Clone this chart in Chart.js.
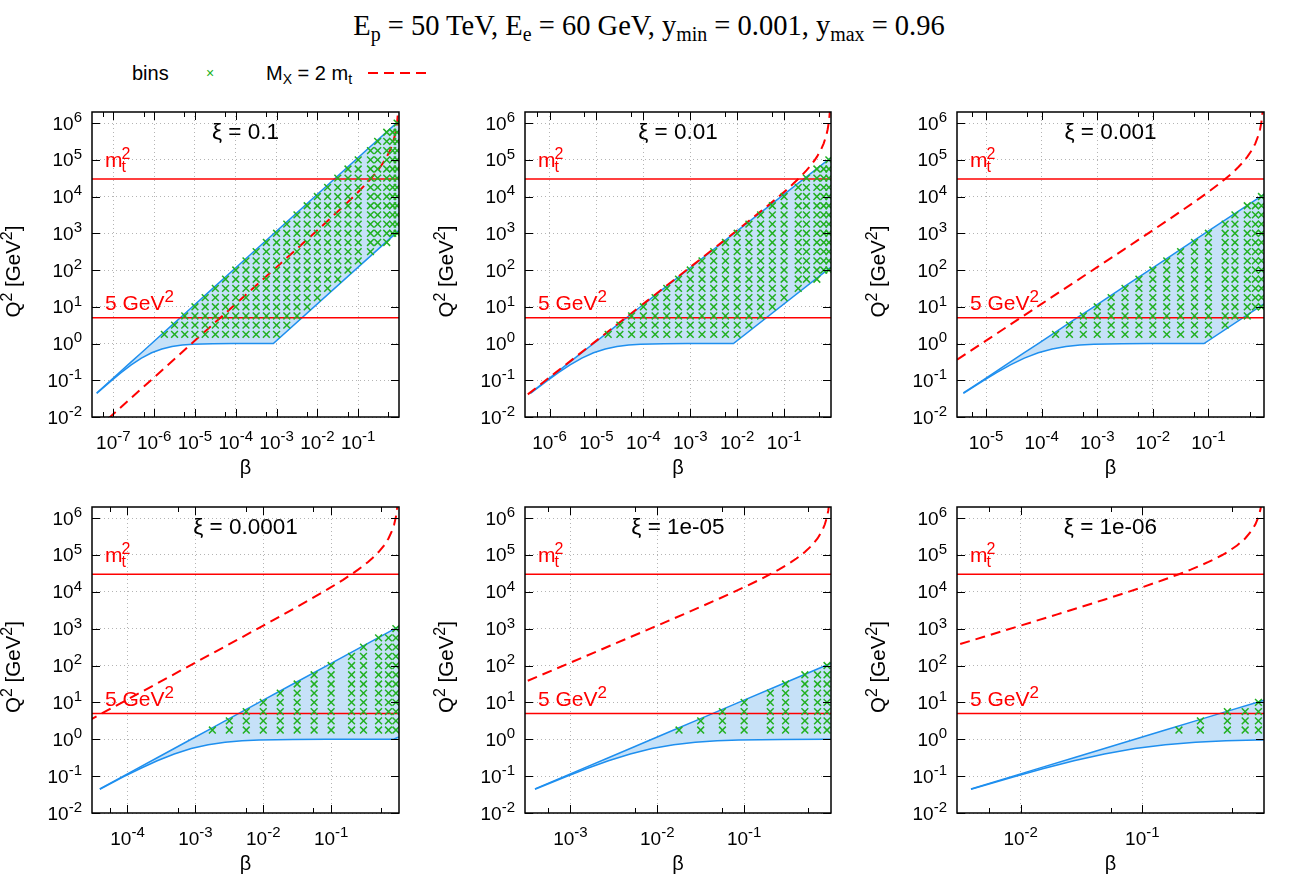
<!DOCTYPE html>
<html>
<head>
<meta charset="utf-8">
<script src="https://cdn.jsdelivr.net/npm/chart.js@4.4.1/dist/chart.umd.min.js"></script>
<style>
  body { margin: 0; background: #fff; width: 1298px; height: 886px; position: relative; overflow: hidden;
         font-family: "Liberation Sans", Arial, Helvetica, sans-serif; }
  #title { position: absolute; left: 0; width: 1298px; top: 10px; text-align: center;
           font-family: "Liberation Serif", "Times New Roman", serif; font-size: 28.5px; }
  #title sub, .legend sub { font-size: 0.7em; vertical-align: baseline; position: relative; top: 0.3em; }
  .legend { position: absolute; top: 61px; font-size: 20px; line-height: 24px; }
  canvas.panel { position: absolute; }
</style>
</head>
<body>
<div id="title">E<sub>p</sub> = 50 TeV, E<sub>e</sub> = 60 GeV, y<sub>min</sub> = 0.001, y<sub>max</sub> = 0.96</div>
<div class="legend" style="left:132px">bins</div>
<div class="legend" style="left:206px; color:#22b022; font-size:14px">&#215;</div>
<div class="legend" style="left:266px">M<sub>X</sub> = 2 m<sub>t</sub></div>
<div style="position:absolute; left:368px; top:72px; width:60px; height:2px;
            background:repeating-linear-gradient(to right,#f00 0 10px,transparent 10px 16px)"></div>

<script>
// ---- data ----
const xiLabels = ['ξ = 0.1', 'ξ = 0.01', 'ξ = 0.001', 'ξ = 0.0001', 'ξ = 1e-05', 'ξ = 1e-06'];
const betaMin = [3e-8, 3e-7, 3e-6, 3e-5, 3e-4, 3e-3];
const betaMax = 1;
const q2Min = 0.01;
const q2Max = 2e6;
const mtSquared = 29929;   // m_t^2 line
const q2Cut = 5;           // 5 GeV^2 line

// edges of the shaded region (y = ymax edge and the lower edge), same beta samples
const edgeBetaXi1 = [3.91e-8, 8.68e-8, 1.545e-7, 2.74e-7, 4.88e-7, 8.68e-7, 1.545e-6, 2.74e-6, 4.88e-6, 8.68e-6, 2.74e-5, 8.68e-5, 8.33e-4, 1];
const upperQ2Xi1 = [0.045, 0.1, 0.178, 0.316, 0.562, 1, 1.78, 3.16, 5.62, 10, 31.6, 100, 960, 1.152e6];
const lowerQ2Xi1 = [0.044, 0.095, 0.161, 0.262, 0.40, 0.56, 0.71, 0.83, 0.91, 0.95, 0.99, 1.0, 1.0, 1200];

const edgeBetaXi2 = [3.91e-7, 8.68e-7, 1.545e-6, 2.74e-6, 4.88e-6, 8.68e-6, 1.545e-5, 2.74e-5, 4.88e-5, 8.68e-5, 2.74e-4, 8.68e-4, 8.33e-3, 1];
const upperQ2Xi2 = [0.045, 0.1, 0.178, 0.316, 0.562, 1, 1.78, 3.16, 5.62, 10, 31.6, 100, 960, 1.152e5];
const lowerQ2Xi2 = [0.044, 0.095, 0.161, 0.262, 0.40, 0.56, 0.71, 0.83, 0.91, 0.95, 0.99, 1.0, 1.0, 120];

const edgeBetaXi3 = [3.91e-6, 8.68e-6, 1.545e-5, 2.74e-5, 4.88e-5, 8.68e-5, 1.545e-4, 2.74e-4, 4.88e-4, 8.68e-4, 2.74e-3, 8.68e-3, 0.0833, 1];
const upperQ2Xi3 = [0.045, 0.1, 0.178, 0.316, 0.562, 1, 1.78, 3.16, 5.62, 10, 31.6, 100, 960, 11520];
const lowerQ2Xi3 = [0.044, 0.095, 0.161, 0.262, 0.40, 0.56, 0.71, 0.83, 0.91, 0.95, 0.99, 1.0, 1.0, 12];

const edgeBetaXi4 = [3.91e-5, 8.68e-5, 1.545e-4, 2.74e-4, 4.88e-4, 8.68e-4, 1.545e-3, 2.74e-3, 4.88e-3, 8.68e-3, 0.0274, 0.0868, 0.833, 1];
const upperQ2Xi4 = [0.045, 0.1, 0.178, 0.316, 0.562, 1, 1.78, 3.16, 5.62, 10, 31.6, 100, 960, 1152];
const lowerQ2Xi4 = [0.044, 0.095, 0.161, 0.262, 0.40, 0.56, 0.71, 0.83, 0.91, 0.95, 0.99, 1.0, 1.0, 1.15];

const edgeBetaXi5 = [3.91e-4, 8.68e-4, 1.545e-3, 2.74e-3, 4.88e-3, 8.68e-3, 0.01545, 0.0274, 0.0488, 0.0868, 0.274, 0.868, 1];
const upperQ2Xi5 = [0.045, 0.1, 0.178, 0.316, 0.562, 1, 1.78, 3.16, 5.62, 10, 31.6, 100, 115.2];
const lowerQ2Xi5 = [0.044, 0.095, 0.161, 0.262, 0.40, 0.56, 0.71, 0.83, 0.91, 0.95, 0.99, 1.0, 1.0];

const edgeBetaXi6 = [3.91e-3, 8.68e-3, 0.01545, 0.0274, 0.0488, 0.0868, 0.1545, 0.274, 0.488, 0.868, 1];
const upperQ2Xi6 = [0.045, 0.1, 0.178, 0.316, 0.562, 1, 1.78, 3.16, 5.62, 10, 11.52];
const lowerQ2Xi6 = [0.044, 0.095, 0.161, 0.262, 0.40, 0.56, 0.71, 0.83, 0.91, 0.95, 0.96];

// M_X = 2 m_t curve (same in every panel)
const mxBeta = [1e-8, 1e-7, 1e-6, 1e-5, 1e-4, 1e-3, 0.003, 0.005, 0.01, 0.02, 0.03, 0.05, 0.07, 0.1, 0.15,
                0.2, 0.25, 0.3, 0.35, 0.4, 0.45, 0.5, 0.6, 0.7, 0.8, 0.85, 0.9, 0.93, 0.95];
const mxQ2 = [0.0012, 0.012, 0.12, 1.2, 12, 120, 361, 603, 1212, 2449, 3711, 6316, 9032, 13333, 21176,
              30000, 40000, 51430, 64615, 80000, 98182, 120000, 180000, 280000, 480000, 680000, 1.08e6, 1.594e6, 2.28e6];

// bin rows (Q^2) and, per panel, bin columns: [beta, first row, last row] (rows counted from 1)
const binRows = [1.78, 3.16, 5.62, 10, 17.8, 31.6, 56.2, 100, 178, 316, 562, 1000, 1780, 3160, 5620,
                 1e4, 1.78e4, 3.16e4, 5.62e4, 1e5, 1.78e5, 3.16e5, 5.62e5, 1e6];
const binsXi1 = [[1.78e-6,1,1],[3.16e-6,1,2],[5.62e-6,1,3],[1e-5,1,4],[1.78e-5,1,5],[3.16e-5,1,6],[5.62e-5,1,7],
                 [1e-4,1,8],[1.78e-4,1,9],[3.16e-4,1,10],[5.62e-4,1,11],[1e-3,1,12],[1.78e-3,2,13],[3.16e-3,3,14],
                 [5.62e-3,4,15],[0.01,5,16],[0.0178,6,17],[0.0316,7,18],[0.0562,8,19],[0.1,9,20],
                 [0.2,10,21],[0.3,11,22],[0.5,11,23],[0.7,12,23],[0.9,12,24]];
const binsXi2 = [[1.78e-5,1,1],[3.16e-5,1,2],[5.62e-5,1,3],[1e-4,1,4],[1.78e-4,1,5],[3.16e-4,1,6],[5.62e-4,1,7],
                 [1e-3,1,8],[1.78e-3,1,9],[3.16e-3,1,10],[5.62e-3,1,11],[0.01,1,12],[0.0178,2,13],[0.0316,3,14],
                 [0.0562,4,15],[0.1,5,16],[0.2,6,17],[0.3,7,18],[0.5,7,19],[0.7,8,19],[0.9,8,20]];
const binsXi3 = [[1.78e-4,1,1],[3.16e-4,1,2],[5.62e-4,1,3],[1e-3,1,4],[1.78e-3,1,5],[3.16e-3,1,6],[5.62e-3,1,7],
                 [0.01,1,8],[0.0178,1,9],[0.0316,1,10],[0.0562,1,11],[0.1,1,12],
                 [0.2,2,13],[0.3,3,14],[0.5,3,15],[0.7,4,15],[0.9,4,16]];
const binsXi4 = [[1.78e-3,1,1],[3.16e-3,1,2],[5.62e-3,1,3],[0.01,1,4],[0.0178,1,5],[0.0316,1,6],[0.0562,1,7],
                 [0.1,1,8],[0.2,1,9],[0.3,1,10],[0.5,1,11],[0.7,1,11],[0.9,1,12]];
const binsXi5 = [[0.0178,1,1],[0.0316,1,2],[0.0562,1,3],[0.1,1,4],[0.2,1,5],[0.3,1,6],[0.5,1,7],[0.7,1,7],[0.9,1,8]];
const binsXi6 = [[0.2,1,1],[0.3,1,2],[0.5,1,3],[0.7,1,3],[0.9,1,4]];

const edgeBetas = [edgeBetaXi1, edgeBetaXi2, edgeBetaXi3, edgeBetaXi4, edgeBetaXi5, edgeBetaXi6];
const upperQ2s = [upperQ2Xi1, upperQ2Xi2, upperQ2Xi3, upperQ2Xi4, upperQ2Xi5, upperQ2Xi6];
const lowerQ2s = [lowerQ2Xi1, lowerQ2Xi2, lowerQ2Xi3, lowerQ2Xi4, lowerQ2Xi5, lowerQ2Xi6];
const binCols = [binsXi1, binsXi2, binsXi3, binsXi4, binsXi5, binsXi6];

// ---- layout / style ----
const plotLeft = [92, 525, 957];
const plotWidth = [307, 306, 307];
const plotTop = [112, 507];
const plotHeight = [305, 306];
const AXIS_W = 92, AXIS_H = 62, PAD_TOP = 16, PAD_RIGHT = 12;

const RED = '#ff0000', BLUE = '#1e8fef', FILL = 'rgb(198,225,248)', GREEN = '#22b022';
const FONT = '"Liberation Sans", Arial, Helvetica, sans-serif';

function zip(xs, ys) { return xs.map((x, i) => ({ x: x, y: ys[i] })); }

// text with super/subscripts: parts = [[text, kind]], kind '' | 'sup' | 'sub'
function drawRich(ctx, parts, x, y, size, align, color) {
  const small = Math.round(size * 0.8);
  let w = 0;
  parts.forEach(([t, k]) => { ctx.font = (k ? small : size) + 'px ' + FONT; w += ctx.measureText(t).width; });
  let cx = align === 'center' ? x - w / 2 : align === 'right' ? x - w : x;
  ctx.textAlign = 'left';
  ctx.textBaseline = 'alphabetic';
  ctx.fillStyle = color || '#000';
  parts.forEach(([t, k]) => {
    ctx.font = (k ? small : size) + 'px ' + FONT;
    const dy = k === 'sup' ? -size * 0.4 : k === 'sub' ? size * 0.28 : 0;
    ctx.fillText(t, cx, y + dy);
    cx += ctx.measureText(t).width;
  });
}

function powParts(p) { return [['10', ''], [String(p), 'sup']]; }

const decor = {
  id: 'decor',
  afterDatasetsDraw(chart, args, opts) {
    const { ctx, chartArea: a } = chart;
    const xs = chart.scales.x, ys = chart.scales.y;
    ctx.save();
    // inward tick marks
    ctx.strokeStyle = '#000';
    ctx.lineWidth = 1;
    ctx.beginPath();
    xs.ticks.forEach(t => {
      const px = Math.round(xs.getPixelForValue(t.value)) + 0.5;
      ctx.moveTo(px, a.bottom); ctx.lineTo(px, a.bottom - 8);
      ctx.moveTo(px, a.top); ctx.lineTo(px, a.top + 8);
    });
    opts.minorX.forEach(v => {
      const px = Math.round(xs.getPixelForValue(v)) + 0.5;
      ctx.moveTo(px, a.bottom); ctx.lineTo(px, a.bottom - 5);
      ctx.moveTo(px, a.top); ctx.lineTo(px, a.top + 5);
    });
    ys.ticks.forEach(t => {
      const py = Math.round(ys.getPixelForValue(t.value)) + 0.5;
      ctx.moveTo(a.left, py); ctx.lineTo(a.left + 8, py);
      ctx.moveTo(a.right, py); ctx.lineTo(a.right - 8, py);
    });
    ctx.stroke();
    // frame
    ctx.lineWidth = 1.5;
    ctx.strokeRect(a.left, a.top, a.right - a.left, a.bottom - a.top);

    // tick labels
    xs.ticks.forEach(t => {
      const p = Math.round(Math.log10(t.value));
      drawRich(ctx, powParts(p), xs.getPixelForValue(t.value), a.bottom + 32, 19, 'center');
    });
    ys.ticks.forEach(t => {
      const p = Math.round(Math.log10(t.value));
      drawRich(ctx, powParts(p), a.left - 10, ys.getPixelForValue(t.value) + 6.5, 19, 'right');
    });
    // axis titles
    ctx.save();
    ctx.translate(a.left - 72, (a.top + a.bottom) / 2 + 7);
    ctx.rotate(-Math.PI / 2);
    drawRich(ctx, [['Q', ''], ['2', 'sup'], [' [GeV', ''], ['2', 'sup'], [']', '']], 0, 0, 20.5, 'center');
    ctx.restore();
    ctx.font = '20px ' + FONT;
    ctx.fillStyle = '#000';
    ctx.textAlign = 'center';
    ctx.textBaseline = 'middle';
    ctx.fillText('β', (a.left + a.right) / 2, a.bottom + 51);
    // panel title
    ctx.font = '22.5px ' + FONT;
    ctx.fillText(opts.title, (a.left + a.right) / 2, a.top + 21);

    // line labels
    const lx = a.left + 13;
    const mtY = ys.getPixelForValue(mtSquared) - 12.5;
    ctx.font = '21px ' + FONT;
    ctx.textAlign = 'left';
    ctx.textBaseline = 'alphabetic';
    ctx.fillStyle = RED;
    ctx.fillText('m', lx, mtY);
    const mw = ctx.measureText('m').width;
    ctx.font = '16px ' + FONT;
    ctx.fillText('t', lx + mw - 1, mtY + 5);
    ctx.fillText('2', lx + mw - 1, mtY - 8);
    drawRich(ctx, [['5 GeV', ''], ['2', 'sup']], lx, ys.getPixelForValue(q2Cut) - 7.5, 21, 'left', RED);
    ctx.restore();
  }
};

for (let i = 0; i < 6; i++) {
  const row = Math.floor(i / 3), col = i % 3;
  const cv = document.createElement('canvas');
  cv.className = 'panel';
  cv.width = AXIS_W + plotWidth[col] + PAD_RIGHT;
  cv.height = PAD_TOP + plotHeight[row] + AXIS_H;
  cv.style.left = (plotLeft[col] - AXIS_W) + 'px';
  cv.style.top = (plotTop[row] - PAD_TOP) + 'px';
  document.body.appendChild(cv);

  const bins = [];
  binCols[i].forEach(([b, k1, k2]) => {
    for (let k = k1; k <= k2; k++) bins.push({ x: b, y: binRows[k - 1] });
  });

  const xDecades = [], minorX = [];
  for (let p = Math.ceil(Math.log10(betaMin[i])); p < 0; p++) xDecades.push(Math.pow(10, p));
  for (let p = Math.floor(Math.log10(betaMin[i])); p <= 0; p++) {
    const v = 0.55 * Math.pow(10, p);
    if (v > betaMin[i] && v < betaMax) minorX.push(v);
  }
  const yDecades = [];
  for (let p = -2; p <= 6; p++) yDecades.push(Math.pow(10, p));

  const lineOpts = { pointRadius: 0, tension: 0, fill: false };
  new Chart(cv, {
    type: 'line',
    data: {
      datasets: [
        Object.assign({}, lineOpts, { data: zip(edgeBetas[i], upperQ2s[i]), borderColor: BLUE, borderWidth: 1.5,
          fill: '+1', backgroundColor: FILL, order: 6 }),
        Object.assign({}, lineOpts, { data: zip(edgeBetas[i], lowerQ2s[i]), borderColor: BLUE, borderWidth: 1.5, order: 5 }),
        Object.assign({}, lineOpts, { data: [{ x: betaMin[i], y: mtSquared }, { x: betaMax, y: mtSquared }],
          borderColor: RED, borderWidth: 1.5, order: 4 }),
        Object.assign({}, lineOpts, { data: [{ x: betaMin[i], y: q2Cut }, { x: betaMax, y: q2Cut }],
          borderColor: RED, borderWidth: 1.5, order: 3 }),
        Object.assign({}, lineOpts, { data: zip(mxBeta, mxQ2), borderColor: RED, borderWidth: 2,
          borderDash: [10, 6], order: 2 }),
        { data: bins, showLine: false, pointStyle: 'crossRot', pointRadius: 4.8, pointBorderWidth: 1.5,
          borderColor: GREEN, backgroundColor: GREEN, pointBorderColor: GREEN, order: 1 }
      ]
    },
    options: {
      responsive: false,
      animation: false,
      devicePixelRatio: 1,
      events: [],
      layout: { padding: { top: PAD_TOP, right: PAD_RIGHT, left: 0, bottom: 0 } },
      plugins: {
        legend: { display: false },
        tooltip: { enabled: false },
        decor: { title: xiLabels[i], minorX: minorX }
      },
      scales: {
        x: {
          type: 'logarithmic', min: betaMin[i], max: betaMax,
          afterBuildTicks: s => { s.ticks = xDecades.map(v => ({ value: v })); },
          afterFit: s => { s.height = AXIS_H; },
          ticks: { display: false },
          grid: { color: '#b4b4b4', lineWidth: 1, drawTicks: false },
          border: { display: false, dash: [1, 3] }
        },
        y: {
          type: 'logarithmic', min: q2Min, max: q2Max,
          afterBuildTicks: s => { s.ticks = yDecades.map(v => ({ value: v })); },
          afterFit: s => { s.width = AXIS_W; },
          ticks: { display: false },
          grid: { color: '#b4b4b4', lineWidth: 1, drawTicks: false },
          border: { display: false, dash: [1, 3] }
        }
      }
    },
    plugins: [decor]
  });
}
</script>
</body>
</html>
